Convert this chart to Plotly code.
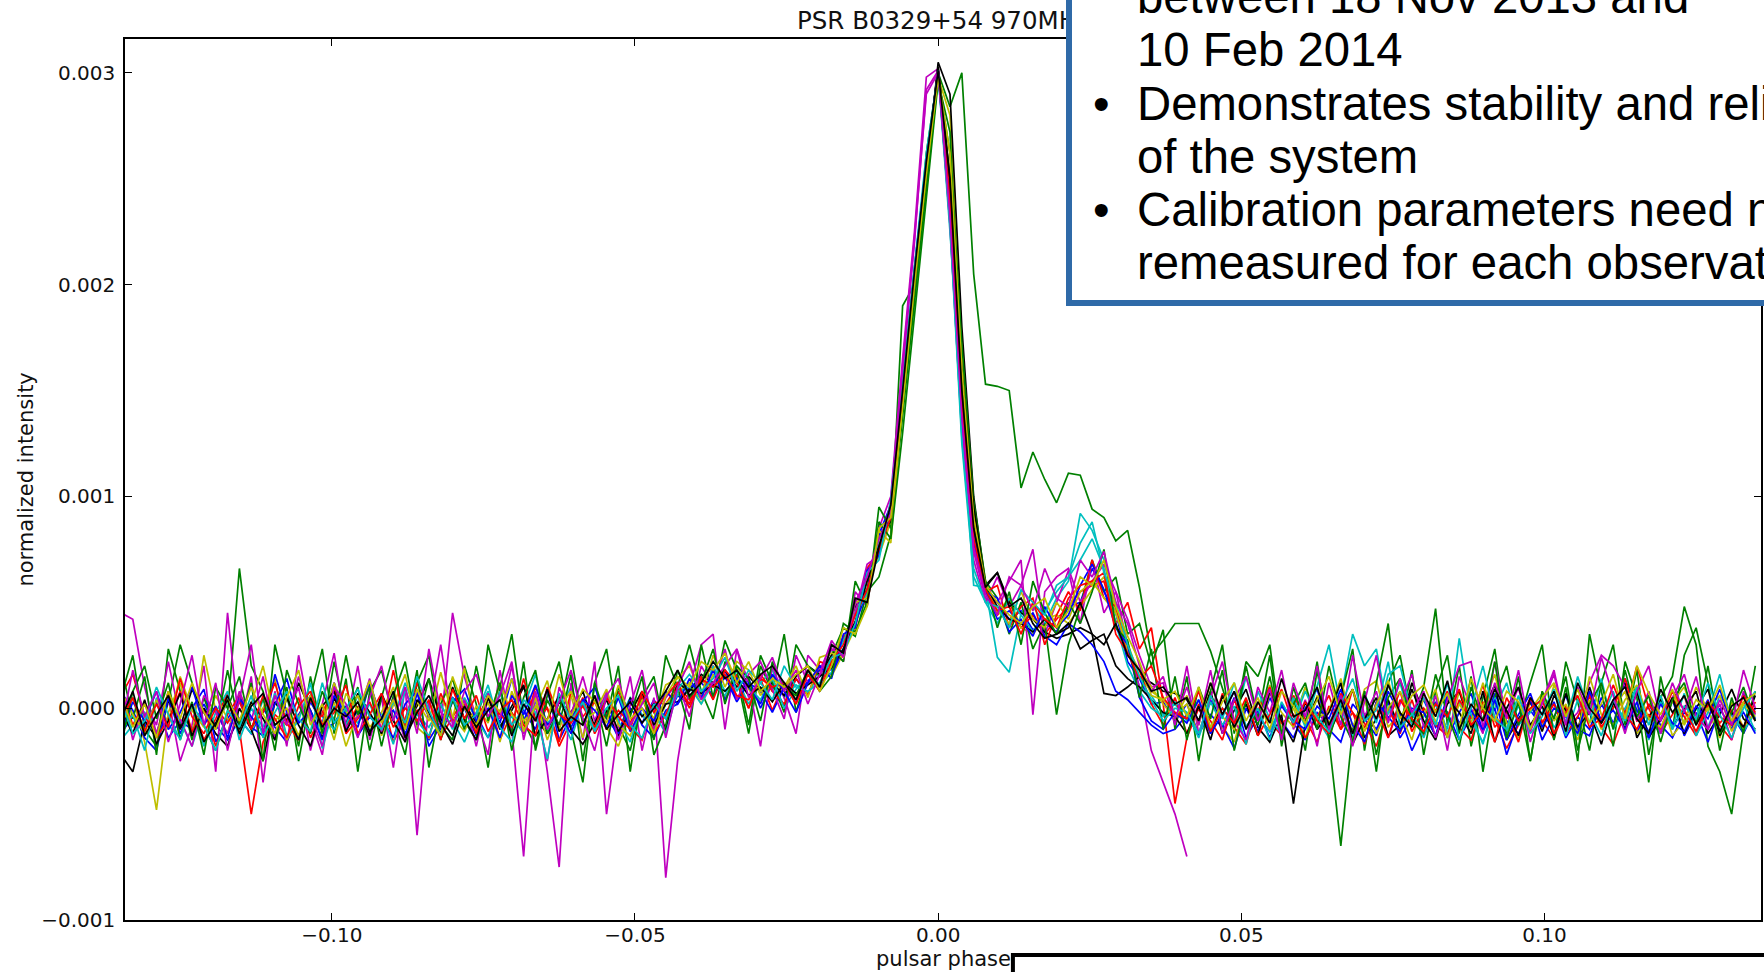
import numpy as np
import plotly.graph_objects as go

# ---------------------------------------------------------------------------
# Folded pulse profiles of PSR B0329+54 at 970 MHz, one per observation.
# Phase is in 512 bins per period; values are normalized intensity in units
# of 1e-5 (so 300 -> 0.0030).  None marks bins without data.
# ---------------------------------------------------------------------------
PHASE_BINS = 512
BIN_INDEX = list(range(-69, 70))
UNIT = 1e-5

B1 = [-12, -4, -9, 3, -14, -6, -10, 2, -8, -15,
      -5, -12, 0, -9, -16, -3, 6, -11, -7, 1,
      -13, -4, -10, 4, -12, -2, -15, -6, 5, -9,
      -3, -14, -1, -11, -6, 7, -12, -2, -9, 2,
      -10, -2, -14, 0, -7, 4, -5, 6, 2, 15,
      5, 18, 4, 14, 0, 12, 1, 14, 6, 20,
      18, 33, 40, 62, 75, 95, 148, 205, 258, 302,
      240, 150, 80, 54, 50, 42, 46, 37, 40, 36,
      48, 50, 66, 55, 45, 22, 14, 2, 3, -6,
      2, -12, -3, -9, 5, -14, -4, -11, 1, -7,
      -15, -2, -8, 6, -12, -3, -10, 3, -14, -5,
      4, -9, -2, -15, -3, -10, 7, -6, -12, -1,
      -9, 3, -14, -4, -10, 5, -7, -1, -12, 2,
      -8, -14, -2, -6, 4, -11, -3, -12, 0]

G1 = [5, 25, -10, -18, 3, 30, 12, -8, -20, -2,
      66, 20, 8, -15, 10, -25, 5, 28, -12, 14,
      -30, 8, 18, -5, -22, 12, 25, -8, -15, 20,
      2, -28, 10, 35, -6, -18, 6, 22, -10, -35,
      12, 28, -8, -20, 5, 15, -12, 10, 30, 8,
      -5, 22, 15, -12, 20, 8, 35, -2, 18, 10,
      25, 38, 34, 55, 62, 82, 190, 200, 262, 300,
      284, 300, 205, 153, 152, 150, 104, 121, 108, 97,
      111, 110, 94, 90, 79, 84, 57, 25, 32, 40,
      40, 40, 27, 10, -8, 22, 15, 30, -12, 5,
      -20, 18, -15, -65, -10, 8, -30, 12, 25, -5,
      10, 47, -8, 20, -18, 5, 28, -12, 15, -25,
      8, -15, 22, 3, -20, 12, 30, -8, 18, -22,
      5, 15, 48, 30, -18, -30, -50, -10, 8]

R1 = [6, 16, -4, -12, 8, -9, 2, -15, -5, 7,
      -10, -50, -16, -3, -8, 5, -14, -2, 9, -9,
      1, -12, 6, -16, -5, 12, -2, -14, -4, 4,
      -9, 7, -15, -2, -11, 10, 0, -18, -6, 5,
      -12, -2, 8, -9, -15, 3, 2, 11, 4, 13,
      20, 4, 16, 0, 14, -1, 12, 2, 18, 10,
      24, 27, 45, 55, 80, 90, 145, 200, 250, 301,
      248, 158, 90, 56, 44, 50, 38, 44, 35, 42,
      48, 55, 58, 60, 40, 50, 28, 38, 2, -45,
      -14, 0, -12, 7, -9, -17, 3, -6, -13, 6,
      -5, -16, 1, -10, 9, -7, -18, 0, -12, 4,
      -13, -1, 8, -9, -15, 3, -5, -19, -8, 5,
      -6, -14, 1, -12, 6, -9, -17, -2, 20, 0,
      -12, -3, 6, -13, 1, -8, -15, 3, -6]

C1 = [-15, -8, -2, -12, 5, -6, -18, 0, -9, 3,
      -5, -12, 4, -8, -2, -14, 6, -4, -10, -1,
      -7, 2, -11, -5, 12, -3, -9, 1, -6, -16,
      -2, 8, -8, -4, -12, 3, -7, -1, 10, -5,
      -9, 0, -6, 5, -3, -11, 2, 6, 12, 4,
      20, 8, 14, 2, 12, 18, 5, 11, 7, 16,
      22, 28, 45, 62, 75, 95, 155, 210, 262, 300,
      225, 140, 58, 57, 24, 17, 45, 48, 40, 52,
      60, 92, 84, 70, 45, 28, 10, 6, -3, 2,
      -6, 4, -10, 0, -8, 15, -4, -11, 2, -6,
      10, -5, -14, 5, 35, 20, 28, -3, 12, -8,
      -4, 8, -12, 3, -6, -16, 0, 12, -8, -2,
      5, -9, -3, -13, 2, -6, 8, -10, -1, -5,
      -12, 4, -7, 0, -9, 6, -3, -11, -2]

M1 = [45, 42, 10, -12, 5, -25, -8, 20, -30, 45,
      -10, 15, -35, 8, -18, 25, -5, -22, 12, -8,
      20, -15, 5, -28, 10, -60, 3, -8, 45, 15,
      -5, -22, 18, -10, -70, 8, -30, -75, 12, -15,
      22, -50, -8, 15, -20, 5, -80, -25, 10, 30,
      35, -10, 28, 12, -18, 20, 5, -12, 25, 18,
      30, 22, 55, 48, 85, 100, 165, 225, 298, 302,
      228, 130, 70, 50, 62, 48, 58, 75, 35, 50,
      65, 40, 70, 45, 55, 30, 10, -20, -35, -50,
      -70, None, None, None, None, None, None, None, None, None,
      None, None, None, None, None, None, None, None, None, None,
      None, None, None, None, None, None, None, None, None, None,
      None, None, None, None, None, None, None, None, None, None,
      None, None, None, None, None, None, None, None, None]

Y1 = [-9, 5, -16, -48, -2, 12, -13, 25, -1, -12,
      7, -10, 0, 14, -15, -4, 6, -12, 3, -18,
      -2, 11, -13, 2, 16, -9, -14, 5, -5, 19,
      -11, 3, -16, 8, -6, 0, 13, -10, 6, -14,
      4, -9, -18, -2, 7, -11, 2, 8, 12, 2,
      16, 5, 20, 9, 3, 13, 8, 6, 12, 18,
      15, 26, 38, 60, 72, 88, 140, 198, 250, 298,
      280, 170, 95, 60, 45, 52, 38, 35, 42, 44,
      40, 48, 56, 62, 46, 30, 15, 8, 4, -3,
      2, -13, 7, -9, -16, 3, -5, 11, -10, 0,
      -14, 6, -7, 2, -12, 9, 13, -9, -2, -15,
      5, -6, -13, 8, -10, 1, 16, -7, -14, 3,
      -9, 11, -2, -15, 4, -10, 0, 8, -12, -5,
      6, -13, -6, 10, -1, -14, 3, -9, -2]

K1 = [-22, -30, -6, -14, 4, -9, 9, -2, -12, -18,
      0, -10, -25, 3, -6, 12, -1, -14, 5, -8,
      7, -2, -12, 5, -9, 1, 14, -5, -13, 2,
      -7, 6, -10, -1, 10, -5, -12, 3, -2, 8,
      -9, -1, -13, 5, -4, 2, -10, 12, 8, 16,
      12, 18, 10, 15, 9, 12, 6, 15, 20, 16,
      25, 32, 48, 56, 82, 88, 145, 200, 252, 305,
      290, 180, 100, 58, 64, 50, 45, 42, 36, 33,
      35, 38, 35, 7, 6, 10, 15, 12, 8, 7,
      4, -6, 8, -12, -1, 9, -9, -16, -3, -45,
      -7, 5, -12, 0, 9, -14, -5, 4, -10, 12,
      -2, -13, 2, 8, -9, -1, 11, -15, -5, 3,
      -11, 6, -1, -10, 10, -7, 2, 12, -14, -4,
      4, -9, 0, 8, -12, -3, 9, -5, -10]

B2 = [8, -1, -14, -20, 5, -12, 0, 9, -16, -5,
      4, -9, -13, 16, -2, -15, 3, -7, 12, -10,
      -1, 11, -5, -14, 2, 8, -18, -8, 5, 0,
      -13, 6, -7, 14, -1, -10, 9, -15, -4, 3,
      10, -5, -12, 4, -8, -14, -1, 2, 10, 12,
      6, 15, 3, 12, 8, -2, 10, 4, 13, 18,
      16, 28, 40, 55, 82, 96, 150, 208, 258, 300,
      238, 150, 84, 55, 42, 46, 40, 45, 34, 30,
      40, 36, 30, 22, 8, 4, -2, -8, -12, -10,
      -3, -13, 4, -8, -19, 0, -11, 5, -6, -14,
      0, 9, -10, -16, 2, -5, -13, 8, -3, -20,
      -8, 3, -14, -2, 7, -11, 0, -22, -6, 4,
      -15, -4, 6, -10, -13, 2, -8, 14, -1, -11,
      -6, 4, -13, -2, -16, 0, -10, 7, -5]

G2 = [20, -5, 15, -22, 28, 8, -15, 5, -10, 18,
      -8, 12, -25, 30, 6, -18, 15, -12, 22, -4,
      10, -20, 5, 25, -10, 18, -28, 2, 14, -6,
      -15, 30, 8, -12, 22, -20, 4, -8, 16, -25,
      12, -5, 20, -30, 8, -15, 25, 10, -10, 30,
      5, 32, 18, -8, 25, 12, -2, 30, 20, 15,
      28, 22, 60, 48, 95, 85, 138, 190, 245, 298,
      262, 172, 98, 60, 52, 35, 50, 28, 40, -3,
      30, 48, 70, 55, 62, 35, 40, 20, 37, -10,
      15, -25, 8, 30, -12, 20, -5, 25, -18, 10,
      -8, 22, -15, 5, 28, -20, 12, 40, -10, 18,
      -22, 8, 25, -12, 15, -30, 5, 20, -8, 12,
      30, -15, 10, -25, 35, 8, -18, 22, 5, -35,
      15, -10, 25, 38, 12, -20, 5, -12, 20]

R2 = [10, -8, 3, -14, -5, 8, -11, 0, -18, -3,
      6, -9, -2, 12, -7, -15, 4, -4, 10, -12,
      -5, 3, -10, 18, -8, -1, -14, 7, -6, 2,
      -12, 5, -3, -9, 14, -6, 0, -16, 8, -4,
      3, -10, -1, -7, 6, -12, -3, 10, 2, 15,
      4, 18, 12, 0, 16, 8, 2, 14, 6, 22,
      20, 34, 38, 66, 74, 94, 152, 206, 256, 302,
      244, 152, 88, 55, 58, 38, 48, 52, 30, 44,
      55, 46, 70, 52, 48, 25, 18, 2, -8, 5,
      -12, 2, -6, -15, 4, -9, -1, 10, -7, -3,
      -14, -4, 6, -10, -2, -17, 3, -6, 8, -11,
      0, -8, -13, 4, -5, 11, -9, -2, -16, 5,
      -7, 2, -12, -4, 7, -9, 0, 14, -6, -3,
      -10, 5, -4, -13, 2, -7, -1, -9, 3]

C2 = [-11, -3, -20, 5, -8, -14, 2, -18, -2, 8,
      -15, 0, -9, 7, -13, -6, 12, -19, 1, -8,
      6, -11, -2, -17, 9, -6, -13, 2, -10, 5,
      -5, -14, 8, -8, 0, 16, -11, -2, -15, 3,
      -10, 7, -6, -16, 3, -2, -12, 8, 10, 2,
      12, 6, 18, 10, 4, 14, 0, 9, 16, 11,
      17, 32, 44, 54, 80, 90, 150, 205, 255, 299,
      230, 128, 66, 50, 40, 52, 44, 36, 46, 55,
      62, 70, 80, 66, 40, 20, 8, 0, -4, 3,
      -2, -14, 3, -8, 1, -17, 8, -5, -12, 5,
      -9, 11, 30, 0, -13, 7, -7, 16, 20, -2,
      -14, 2, -10, 33, -3, -17, 5, -11, 1, -9,
      -2, 9, -13, 4, -7, 14, -10, 0, 10, -15,
      3, -9, 7, -13, -2, 16, -7, 2, -11]

M2 = [12, -15, 3, -8, 22, -5, -18, 6, -2, -12,
      8, -6, 15, -14, -3, 10, -20, 2, 26, -9,
      -4, 14, -11, 5, -16, 9, -2, 30, -8, 4,
      -18, 7, -5, 20, -12, 1, -25, 10, -3, 15,
      -6, 8, -15, 2, 18, -10, 5, 12, -4, 20,
      10, 28, 4, 16, 22, 9, -5, 25, 12, 15,
      28, 25, 45, 68, 72, 98, 160, 220, 292, 301,
      230, 135, 74, 52, 50, 60, 70, -3, 55, 62,
      66, 50, 60, 68, 55, 42, 25, 10, 12, -8,
      20, -12, 5, 22, -6, -15, 10, -2, 18, -10,
      4, -18, 12, -8, 25, -4, 8, -14, 2, 16,
      -9, 6, -20, 15, 0, -12, 22, -5, 10, -16,
      3, 18, -8, -2, 12, 25, 20, 10, -6, 8,
      -12, 5, 16, -4, -10, 2, -15, 8, -3]

Y2 = [8, -3, -12, 4, -7, 15, -1, -9, 6, -5,
      -10, 2, 20, -6, 0, -13, 5, -8, 12, -3,
      6, -9, -2, 10, -14, 3, -6, 17, -4, -11,
      1, -7, 12, -3, -10, 5, -15, 0, 8, -6,
      -2, 9, -8, -13, 4, -5, 11, 14, 20, 6,
      25, 10, 22, 18, 6, 15, 10, 20, 5, 24,
      26, 24, 50, 52, 84, 78, 146, 202, 255, 300,
      252, 160, 92, 58, 46, 40, 55, 42, 38, 50,
      42, 55, 60, 52, 45, 28, 18, 10, 2, -5,
      6, -8, 12, -4, -10, 3, -13, 7, -2, -9,
      10, -5, -1, 14, -9, 4, -12, 0, 8, -6,
      -3, 9, -14, 2, -7, 12, -4, -10, 5, -1,
      7, -6, 2, -12, 15, -3, -8, 4, 11, -5,
      -9, 3, 10, -7, 0, 6, -11, 2, -4]

K2 = [-1, -12, 4, -17, -6, 7, -13, 0, -9, 6,
      -10, 3, -5, -15, 5, -8, -18, 1, 8, -11,
      0, -13, 7, -6, -16, 4, -2, -12, 10, -5,
      -15, 5, -9, 1, 11, -13, -5, 6, -10, -17,
      -7, 4, -11, -2, 8, -8, 2, 3, 9, 7,
      11, 8, 14, 6, 10, 3, 12, 7, 11, 15,
      19, 28, 41, 60, 76, 93, 148, 203, 256, 303,
      250, 160, 95, 58, 48, 42, 40, 36, 42, 35,
      40, 28, 32, 35, 20, 14, 10, 4, -2, -4,
      -12, 1, -15, 6, -9, 2, -13, 8, -6, -16,
      3, -10, -2, 12, -17, -5, 5, -13, -8, 9,
      -6, -15, 4, -2, -12, 8, -16, 0, 10, -8,
      1, -13, 7, -9, -2, -17, 3, -10, 8, -14,
      -5, 5, -12, 0, 9, -13, -2, -9, 6]

B3 = [-12, 3, -6, 8, -10, -2, 10, -8, 1, -14,
      5, -4, -11, 2, 14, -7, -1, -15, 6, -3,
      -9, 12, -5, -1, -13, 7, -4, -10, 3, 9,
      -6, 0, -14, 6, -3, 11, -8, -2, -12, 4,
      -1, -9, 5, -11, 0, -6, 8, 2, 14, 5,
      18, 4, 14, 10, 2, 16, 8, -2, 12, 20,
      14, 35, 38, 65, 72, 96, 150, 205, 258, 300,
      236, 140, 78, 55, 52, 36, 42, 34, 48, 38,
      44, 58, 68, 56, 38, 30, 5, -6, -10, -2,
      -7, 4, -12, -3, 8, -9, -1, -14, 2, -6,
      -10, 1, -5, 9, -8, -16, 3, -4, -11, 0,
      -2, -13, 6, -7, -1, -10, 4, -15, -3, 7,
      -9, 0, -4, -12, 8, -6, -1, -10, 3, -14,
      2, -7, -11, 1, -5, 9, -8, -2, -12]

G3 = [-18, 8, 20, -5, 12, -15, 3, -22, 10, 0,
      15, -10, 5, -20, 18, 2, -12, 8, -6, 25,
      -3, 10, -18, 6, 22, -8, 14, -15, 4, -10,
      20, -6, 12, -20, 5, 18, -12, -2, 25, -8,
      6, -18, 10, -4, 15, -22, -8, 18, 5, 12,
      28, 2, 20, 14, -6, 22, 10, 6, 18, 8,
      15, 40, 36, 50, 88, 80, 130, 185, 240, 296,
      272, 150, 85, 58, 38, 55, 30, 60, 45, 35,
      50, 40, 55, 75, 38, 32, 5, 28, -10, 15,
      -15, 10, -5, 18, -20, 4, -8, 15, -12, 2,
      12, -10, 20, -4, -16, 8, -22, 5, 14, -6,
      -12, 16, -3, -18, 10, -6, 22, -14, 3, -25,
      8, -5, 15, -20, 2, 12, -10, 18, -4, 6,
      -16, 4, 12, -8, 20, -12, -2, 10, -6]

R3 = [-6, 5, -11, 2, -9, 14, -4, -12, 0, -7,
      3, -10, 6, -5, -14, 1, 8, -8, -2, 11,
      -12, -3, 7, -9, 0, -6, 4, -15, 9, -5,
      6, -11, -1, 4, -8, -13, 10, -3, -7, 1,
      -9, 5, -4, -10, 8, -2, 6, 12, 0, 14,
      10, 16, 6, 4, 14, 10, 12, 2, 16, 8,
      22, 30, 44, 56, 75, 90, 148, 204, 254, 300,
      238, 144, 80, 56, 46, 48, 35, 50, 42, 38,
      52, 58, 60, 64, 35, 26, 14, 20, 5, -2,
      -5, 8, -11, 0, -7, 5, -13, -3, 9, -8,
      3, -6, -12, 7, -2, -9, 0, -14, 4, -5,
      -11, 2, -4, 9, -8, -1, -16, 5, -6, 0,
      4, -12, -2, 6, -9, -5, 11, -3, -10, 2,
      -6, 8, -1, -11, 3, -4, -8, 6, -2]

C3 = [4, -12, -6, 10, -3, -15, 2, -8, -20, -1,
      -9, 6, -14, -2, 8, -5, -11, 12, -7, 0,
      9, -4, -10, 3, -7, 15, -1, -13, 5, -8,
      -3, 11, -9, -16, 4, -2, -24, 7, -6, 3,
      -11, 0, 6, -8, -14, 2, -5, 9, 16, 8,
      14, 24, 8, 18, 12, 4, 20, 10, 8, 12,
      24, 26, 40, 64, 70, 98, 152, 208, 258, 301,
      228, 125, 62, 50, 48, 38, 56, 50, 44, 58,
      62, 78, 88, 64, 50, 30, 15, 4, -6, 0,
      -2, -12, 6, -5, 12, -9, 0, -15, 3, -7,
      8, -4, -11, 2, 14, -6, -1, 22, -9, -3,
      5, -8, 12, -15, 0, 20, -5, -10, 6, -12,
      -4, 9, -7, 15, -2, -13, 4, -6, 10, -8,
      6, -10, 1, -5, 12, -3, -14, 0, 8]

M3 = [-10, 18, -4, 8, -16, 2, 25, -8, 12, -20,
      4, 30, -12, 6, -8, 15, -3, -18, 10, 2,
      -14, 5, 20, -6, 10, -12, 28, -2, -9, 8,
      16, -4, 6, 22, -15, 8, -10, 3, 18, -5,
      -20, 6, 14, -8, 2, 12, -14, 10, 22, 4,
      12, 20, 28, 5, 14, 24, 8, 18, 2, 16,
      32, 24, 50, 62, 80, 92, 162, 222, 290, 300,
      232, 138, 76, 54, 44, 62, 58, 46, 66, 52,
      48, 70, 62, 74, 50, 40, 20, 8, 15, -5,
      10, -8, 18, -12, 4, 15, -6, 9, -15, 12,
      -4, 20, -10, 6, -18, 3, 25, -7, 14, -2,
      8, -14, 4, 20, 22, -9, 12, -5, 18, -11,
      2, 16, -8, 10, -3, 24, 6, -12, 8, 20,
      -6, 12, -2, 15, -10, 4, -8, 18, 0]

Y3 = [6, -9, 2, -14, 8, -5, 12, -2, -10, 4,
      -6, 10, -3, -12, 5, 18, -8, 2, -15, 7,
      -1, 13, -7, 4, -10, 9, -4, -13, 15, 0,
      -8, 6, -2, 14, -11, 1, -6, 16, -4, 9,
      3, -7, 11, -5, 0, -12, 6, 15, 10, 22,
      18, 26, 12, 22, 8, 14, 10, 16, 20, 8,
      20, 38, 35, 48, 85, 90, 142, 200, 252, 298,
      262, 160, 90, 58, 50, 44, 40, 48, 52, 38,
      46, 62, 58, 70, 48, 34, 22, 6, 4, 8,
      -4, 10, -9, 3, 12, -6, 5, -10, 8, 1,
      -7, 4, 15, -3, 9, -11, 2, 13, -5, 6,
      11, -2, 7, -9, 14, 0, -6, 8, 3, -10,
      5, 12, -4, 9, -7, 2, 16, -5, 20, 7,
      -3, 9, -8, 4, -1, 11, -6, 3, 7]

K3 = [-5, 8, -13, -3, 6, -10, 2, -16, -7, 4,
      -12, 1, 7, -8, -3, -15, 5, -9, 0, -4,
      3, -11, -5, 8, -14, -2, 6, -7, -17, 1,
      -9, -1, 4, -13, 2, -6, 9, -11, -4, -8,
      6, -10, -3, 3, -7, 0, 8, 18, 6, 12,
      22, 14, 18, 10, 16, 20, 12, 4, 18, 10,
      30, 26, 52, 50, 76, 96, 150, 206, 258, 301,
      250, 150, 85, 57, 64, 48, 52, 40, 33, 35,
      38, 50, 35, 30, 40, 25, 18, 8, 10, 2,
      5, -6, 12, -3, 8, -10, 3, -7, 14, -4,
      -1, 10, -8, 4, -12, 6, -5, 11, -2, -9,
      7, -4, 13, -10, 2, -6, 9, -1, -13, 5,
      -3, 8, -11, 12, 0, -7, 4, 10, -5, -12,
      9, -2, 6, -8, 3, -11, 1, 5, -6]

# plotting order follows the b, g, r, c, m, y, k colour cycle
PROFILES = [
    ("b", B1), ("g", G1), ("r", R1), ("c", C1), ("m", M1), ("y", Y1), ("k", K1),
    ("b", B2), ("g", G2), ("r", R2), ("c", C2), ("m", M2), ("y", Y2), ("k", K2),
    ("b", B3), ("g", G3), ("r", R3), ("c", C3), ("m", M3), ("y", Y3), ("k", K3),
]
CYCLE_COLORS = {
    "b": "#0000ff", "g": "#008000", "r": "#ff0000", "c": "#00bfbf",
    "m": "#bf00bf", "y": "#bfbf00", "k": "#000000",
}

X_TICKS = [-0.10, -0.05, 0.00, 0.05, 0.10]
X_TICK_TEXT = ["\u22120.10", "\u22120.05", "0.00", "0.05", "0.10"]
Y_TICKS = [-0.001, 0.000, 0.001, 0.002, 0.003]
Y_TICK_TEXT = ["\u22120.001", "0.000", "0.001", "0.002", "0.003"]

TITLE = "PSR B0329+54 970MHz"
X_LABEL = "pulsar phase"
Y_LABEL = "normalized intensity"

# slide notes drawn over the plot: (bullet, text)
NOTE_LINES = [
    ("", "between 18 Nov 2013 and"),
    ("", "10 Feb 2014"),
    ("\u2022", "Demonstrates stability and reliability"),
    ("", "of the system"),
    ("\u2022", "Calibration parameters need not be"),
    ("", "remeasured for each observation"),
]

# ---------------------------------------------------------------------------
W, H = 1764, 972
PLOT_L, PLOT_R, PLOT_T, PLOT_B = 125, 1763, 39, 920


def fx(px):
    """page x pixel -> paper x"""
    return (px - PLOT_L) / (PLOT_R - PLOT_L)


def fy(py):
    """page y pixel -> paper y"""
    return (PLOT_B - py) / (PLOT_B - PLOT_T)


phase = np.array(BIN_INDEX, dtype=float) / PHASE_BINS

fig = go.Figure()
for i, (c, vals) in enumerate(PROFILES):
    if len(vals) != len(BIN_INDEX):
        raise ValueError(f"profile {i} has {len(vals)} bins")
    y = np.array(vals, dtype=float) * UNIT
    fig.add_trace(go.Scatter(
        x=phase, y=y, mode="lines",
        line=dict(color=CYCLE_COLORS[c], width=1.7),
        hoverinfo="skip", showlegend=False,
    ))

axis_common = dict(
    showgrid=False, zeroline=False,
    showline=True, linecolor="#000000", linewidth=1.5, mirror="ticks",
    ticks="inside", ticklen=7, tickwidth=1.2, tickcolor="#000000",
    tickfont=dict(family="DejaVu Sans", size=20, color="#111111"),
)

fig.update_layout(
    width=W, height=H,
    margin=dict(l=PLOT_L, r=W - PLOT_R, t=PLOT_T, b=H - PLOT_B, pad=0),
    paper_bgcolor="white", plot_bgcolor="white",
    xaxis=dict(range=[-0.1341, 0.1357], tickvals=X_TICKS, ticktext=X_TICK_TEXT,
               ticklabelstandoff=-4, **axis_common),
    yaxis=dict(range=[-0.001, 0.00316], tickvals=Y_TICKS, ticktext=Y_TICK_TEXT,
               ticklabelstandoff=4, **axis_common),
)

ann = []
# axes title and labels
ann.append(dict(text=TITLE, x=0.5, y=fy(21), xref="paper", yref="paper",
                xanchor="center", yanchor="middle", showarrow=False,
                font=dict(family="DejaVu Sans", size=24.5, color="#111111")))
ann.append(dict(text=X_LABEL, x=0.5, y=fy(959), xref="paper", yref="paper",
                xanchor="center", yanchor="middle", showarrow=False,
                font=dict(family="DejaVu Sans", size=21, color="#111111")))
ann.append(dict(text=Y_LABEL, x=fx(25), y=0.5, xref="paper", yref="paper",
                xanchor="center", yanchor="middle", showarrow=False, textangle=-90,
                font=dict(family="DejaVu Sans", size=21, color="#111111")))

# slide text box (white, blue frame) laid over the upper right of the plot
BOX_LEFT, BOX_BOTTOM, BORDER = 1067, 306, 6
ann.append(dict(text=" ", x=fx(BOX_LEFT), y=fy(BOX_BOTTOM), xref="paper", yref="paper",
                xanchor="left", yanchor="bottom", showarrow=False,
                width=900, height=420, borderpad=0, borderwidth=BORDER,
                bgcolor="white", bordercolor="#2f6aa8"))

NOTE_SIZE = 47.3
baseline0, line_gap = 13.0, 53.2
for j, (bullet, text) in enumerate(NOTE_LINES):
    center = baseline0 + j * line_gap - 0.3465 * NOTE_SIZE
    font = dict(family="Liberation Sans", size=NOTE_SIZE, color="#000000")
    if bullet:
        ann.append(dict(text=bullet, x=fx(1093), y=fy(center), xref="paper", yref="paper",
                        xanchor="left", yanchor="middle", showarrow=False,
                        borderpad=0, font=font))
    ann.append(dict(text=text, x=fx(1137), y=fy(center), xref="paper", yref="paper",
                    xanchor="left", yanchor="middle", showarrow=False,
                    borderpad=0, font=font))

fig.update_layout(annotations=ann)

# frame of the next slide element along the bottom edge
fig.add_shape(type="rect", xref="paper", yref="paper",
              x0=fx(1014), x1=fx(1900), y0=fy(955), y1=fy(1100),
              line=dict(color="#000000", width=4), fillcolor="white", layer="above")

fig.write_html("out.html")
